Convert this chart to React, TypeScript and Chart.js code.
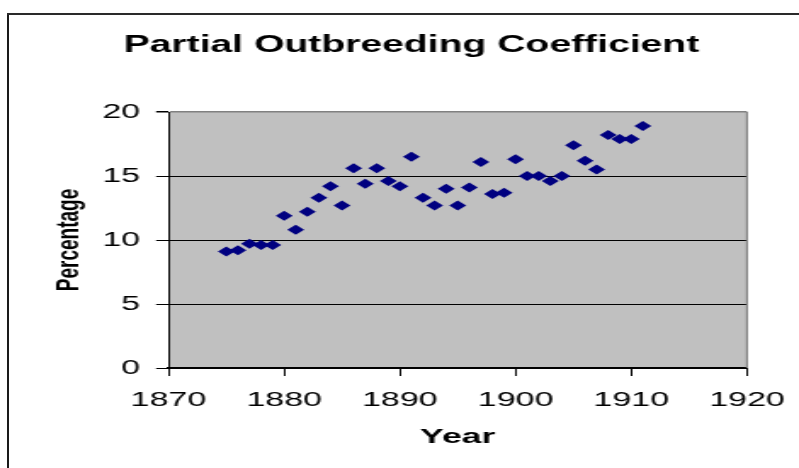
import React, { useEffect, useRef } from 'react';
import { Chart, registerables } from 'chart.js';

Chart.register(...registerables);

const years = [
  1875, 1876, 1877, 1878, 1879, 1880, 1881, 1882, 1883, 1884,
  1885, 1886, 1887, 1888, 1889, 1890, 1891, 1892, 1893, 1894,
  1895, 1896, 1897, 1898, 1899, 1900, 1901, 1902, 1903, 1904,
  1905, 1906, 1907, 1908, 1909, 1910, 1911,
];
const percentages = [
  9.1, 9.2, 9.7, 9.6, 9.6, 11.9, 10.8, 12.2, 13.3, 14.2,
  12.7, 15.6, 14.4, 15.6, 14.6, 14.2, 16.5, 13.3, 12.7, 14.0,
  12.7, 14.1, 16.1, 13.6, 13.7, 16.3, 15.0, 15.0, 14.6, 15.0,
  17.4, 16.2, 15.5, 18.2, 17.9, 17.9, 18.9,
];
const xTickValues = [1870, 1880, 1890, 1900, 1910, 1920];
const yTickValues = [0, 5, 10, 15, 20];
const chartTitle = 'Partial Outbreeding Coefficient';
const xAxisTitle = 'Year';
const yAxisTitle = 'Percentage';

// The reference is horizontally stretched: draw at a narrower internal width, show at full width.
const INNER_W = 470;
const VIEW_W = 799;
const VIEW_H = 468;
const FONT = '"Liberation Sans", Arial, sans-serif';

const plotFrame = {
  id: 'plotFrame',
  beforeDraw(chart: any) {
    const { ctx, chartArea: a } = chart;
    ctx.save();
    ctx.fillStyle = '#c0c0c0';
    ctx.fillRect(a.left, a.top, a.right - a.left, a.bottom - a.top);
    ctx.restore();
  },
  beforeDatasetsDraw(chart: any) {
    const { ctx, chartArea: a } = chart;
    ctx.save();
    ctx.strokeStyle = '#808080';
    ctx.lineWidth = 1.2;
    ctx.beginPath();
    ctx.moveTo(a.right, a.top);
    ctx.lineTo(a.right, a.bottom);
    ctx.stroke();
    ctx.restore();
  },
};

export default function App() {
  const canvasRef = useRef<HTMLCanvasElement | null>(null);

  useEffect(() => {
    const canvas = canvasRef.current;
    if (!canvas) return;
    const points = years.map((y, i) => ({ x: y, y: percentages[i] }));
    const chart = new Chart(canvas, {
      type: 'scatter',
      data: {
        datasets: [
          {
            label: yAxisTitle,
            data: points,
            pointStyle: 'rectRot',
            pointRadius: 5,
            pointHoverRadius: 5,
            pointBackgroundColor: '#000080',
            pointBorderColor: '#000080',
            pointBorderWidth: 0,
          },
        ],
      },
      options: {
        responsive: false,
        animation: false,
        devicePixelRatio: 1,
        layout: { padding: { left: 14, right: 0, top: 0, bottom: 0 } },
        plugins: {
          legend: { display: false },
          tooltip: { enabled: false },
          title: {
            display: true,
            text: chartTitle,
            color: '#000000',
            font: { family: FONT, size: 23, weight: 'bold' },
            padding: { top: 31.7, bottom: 52.7 },
          },
        },
        scales: {
          x: {
            type: 'linear',
            min: 1870,
            max: 1920,
            afterBuildTicks: (scale: any) => {
              scale.ticks = xTickValues.map((v) => ({ value: v }));
            },
            afterFit: (scale: any) => {
              scale.height = 100;
              scale.paddingRight = 30.6;
            },
            ticks: {
              color: '#000000',
              font: { family: FONT, size: 20 },
              padding: 12.5,
              maxRotation: 0,
              autoSkip: false,
              callback: (v: any) => String(v),
            },
            grid: {
              drawOnChartArea: false,
              drawTicks: true,
              tickLength: 8,
              tickColor: '#000000',
              lineWidth: 1,
            },
            border: { display: true, color: '#000000', width: 2 },
            title: {
              display: true,
              text: xAxisTitle,
              color: '#000000',
              font: { family: FONT, size: 21, weight: 'bold' },
              padding: { top: 0, bottom: 17.9 },
            },
          },
          y: {
            type: 'linear',
            min: 0,
            max: 20,
            afterBuildTicks: (scale: any) => {
              scale.ticks = yTickValues.map((v) => ({ value: v }));
            },
            afterFit: (scale: any) => {
              scale.width = 85.1;
            },
            ticks: {
              color: '#000000',
              font: { family: FONT, size: 20 },
              padding: 9.4,
              autoSkip: false,
              callback: (v: any) => String(v),
            },
            grid: {
              drawOnChartArea: true,
              drawTicks: true,
              tickLength: 7.3,
              tickColor: '#000000',
              color: (ctx: any) => (ctx.tick && ctx.tick.value === 20 ? '#808080' : '#000000'),
              lineWidth: (ctx: any) => (ctx.tick && ctx.tick.value === 20 ? 1.5 : 1),
            },
            border: { display: true, color: '#000000', width: 1 },
            title: {
              display: true,
              text: yAxisTitle,
              color: '#000000',
              font: { family: FONT, size: 19, weight: 'bold' },
              padding: { top: 15.2, bottom: 0 },
            },
          },
        },
      },
      plugins: [plotFrame],
    } as any);
    return () => chart.destroy();
  }, []);

  return (
    <div
      style={{
        position: 'absolute',
        left: 0,
        top: 0,
        width: VIEW_W,
        height: VIEW_H,
        overflow: 'hidden',
        background: '#ffffff',
      }}
    >
      <canvas
        ref={canvasRef}
        width={INNER_W}
        height={VIEW_H}
        style={{ position: 'absolute', left: 0, top: 0, width: VIEW_W, height: VIEW_H, display: 'block' }}
      />
      <div style={{ position: 'absolute', left: 7, top: 13, width: 2, height: VIEW_H - 13, background: '#1a1a1a' }} />
      <div style={{ position: 'absolute', left: 7, top: 13, width: VIEW_W - 7, height: 2, background: '#2a2a2a' }} />
    </div>
  );
}
